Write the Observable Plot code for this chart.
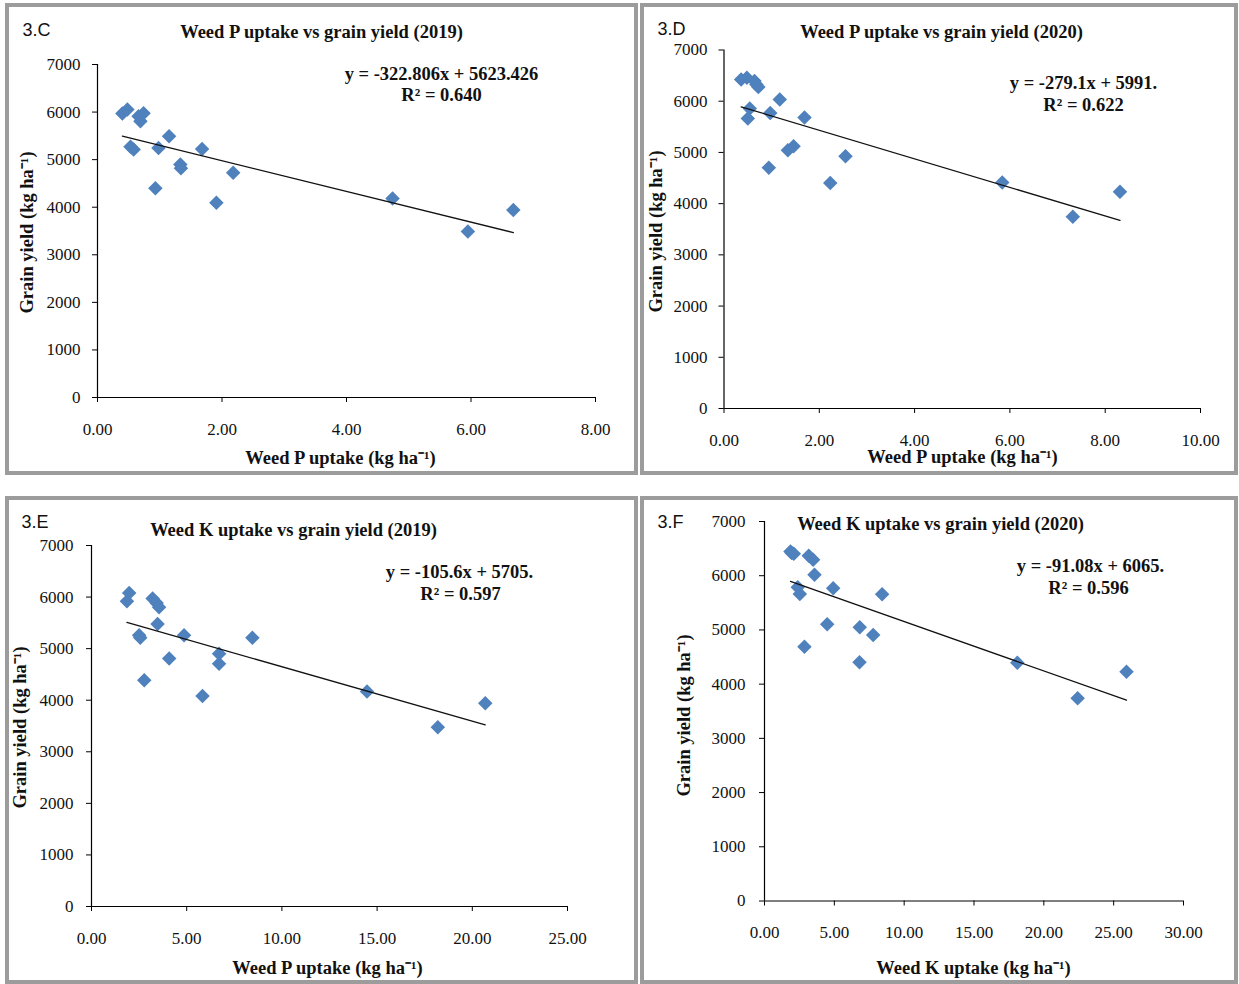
<!DOCTYPE html>
<html><head><meta charset="utf-8">
<script src="https://cdn.jsdelivr.net/npm/d3@7"></script>
<script src="https://cdn.jsdelivr.net/npm/@observablehq/plot@0.6"></script>
<style>
html,body{margin:0;padding:0;background:#fff;}
#wrap{position:relative;width:1239px;height:984px;overflow:hidden;background:#fff;}
.panel{position:absolute;box-sizing:border-box;border:4px solid #9c9c9c;background:#fff;}
.panel svg{display:block;}
</style></head>
<body><div id="wrap"></div>
<script>
// ---------- data ----------
// 3.C  Weed P uptake vs grain yield (2019)
const weedP2019 = [0.40,0.48,0.66,0.74,0.69,0.53,0.58,0.98,1.15,0.93,1.33,1.34,1.68,1.91,2.18,4.74,5.95,6.68];
const yieldP2019 = [5970,6055,5910,5975,5806,5270,5212,5245,5490,4400,4896,4818,5224,4093,4722,4184,3487,3940];
// 3.D  Weed P uptake vs grain yield (2020)
const weedP2020 = [0.36,0.48,0.64,0.72,0.68,0.54,0.50,0.97,1.17,1.69,1.34,1.46,0.94,2.55,2.23,5.84,7.32,8.31];
const yieldP2020 = [6425,6458,6393,6276,6328,5856,5661,5770,6032,5680,5041,5119,4703,4923,4402,4415,3745,4232];
// 3.E  Weed K uptake vs grain yield (2019)
const weedK2019 = [1.98,1.86,3.21,3.42,3.55,3.47,2.50,2.56,4.86,4.08,2.77,6.70,6.70,8.45,5.83,14.47,18.19,20.68];
const yieldK2019 = [6079,5920,5971,5886,5803,5480,5261,5209,5261,4810,4385,4900,4706,5209,4081,4169,3478,3943];
// 3.F  Weed K uptake vs grain yield (2020)
const weedK2020 = [1.86,2.10,1.95,3.17,3.48,3.58,2.38,2.53,4.92,8.42,4.49,6.82,7.78,2.86,6.80,18.10,22.42,25.92];
const yieldK2020 = [6446,6404,6420,6367,6293,6016,5789,5665,5770,5659,5105,5050,4908,4692,4403,4396,3738,4230];

// trendline coefficients shown on the chart
const slopes = [-322.806, -279.1, -105.6, -91.08];
const intercepts = [5623.426, 5991, 5705, 6065];
const equations = ["y = -322.806x + 5623.426", "y = -279.1x + 5991.", "y = -105.6x + 5705.", "y = -91.08x + 6065."];
const rSquared = ["R² = 0.640", "R² = 0.622", "R² = 0.597", "R² = 0.596"];

const panelTags = ["3.C", "3.D", "3.E", "3.F"];
const titles = ["Weed P uptake vs grain yield (2019)", "Weed P uptake vs grain yield (2020)",
                "Weed K uptake vs grain yield (2019)", "Weed K uptake vs grain yield (2020)"];
const xLabels = ["Weed P uptake (kg ha⁻¹)", "Weed P uptake (kg ha⁻¹)", "Weed P uptake (kg ha⁻¹)", "Weed K uptake (kg ha⁻¹)"];
const yLabel = "Grain yield (kg ha⁻¹)";
const xTicks = [[0,2,4,6,8],[0,2,4,6,8,10],[0,5,10,15,20,25],[0,5,10,15,20,25,30]];
const yTicks = [0,1000,2000,3000,4000,5000,6000,7000];

const xs = [weedP2019, weedP2020, weedK2019, weedK2020];
const ys = [yieldP2019, yieldP2020, yieldK2019, yieldK2020];

// ---------- layout (page pixel positions) ----------
const layout = [
  {left:5,   top:3,   w:633, h:472, x0:97,    x1:595,  yTop:64,   yBot:397,   yPad:12,
   tag:[22,30], title:[321,32], eq1:[441,74], eq2:[441,95], xlab:[340,458], ylab:[27,232]},
  {left:640, top:3,   w:598, h:472, x0:723.5, x1:1200, yTop:49.5, yBot:408,   yPad:11.5,
   tag:[657,29], title:[941,32], eq1:[1083,83], eq2:[1083,105], xlab:[962,457], ylab:[656,231]},
  {left:5,   top:496, w:633, h:488, x0:91,    x1:567,  yTop:545,  yBot:906,   yPad:13,
   tag:[21,522], title:[293,530], eq1:[459,572], eq2:[460,594], xlab:[327,968], ylab:[20,727]},
  {left:640, top:496, w:598, h:488, x0:764,   x1:1183, yTop:521,  yBot:900.5, yPad:14,
   tag:[657,522], title:[940,524], eq1:[1090,566], eq2:[1088,588], xlab:[973,968], ylab:[684,715]}
];

const serif = "'Liberation Serif','Times New Roman',serif";
const sans = "'Liberation Sans',Arial,sans-serif";
const diamond = {draw(ctx, size){ const h = Math.sqrt(size/Math.PI)*1.25;
  ctx.moveTo(0,-h); ctx.lineTo(h,0); ctx.lineTo(0,h); ctx.lineTo(-h,0); ctx.closePath(); }};

const wrap = document.getElementById("wrap");

layout.forEach((L, i) => {
  const div = document.createElement("div");
  div.className = "panel";
  Object.assign(div.style, {left: L.left+"px", top: L.top+"px", width: L.w+"px", height: L.h+"px"});
  const ox = L.left + 4, oy = L.top + 4, W = L.w - 8, H = L.h - 8;
  const ticks = xTicks[i];
  const xmax = ticks[ticks.length-1];
  const pts = xs[i].map((x, j) => ({x, y: ys[i][j]}));
  const xmin = d3.min(xs[i]), xmx = d3.max(xs[i]);
  const trend = [xmin, xmx].map(x => ({x, y: slopes[i]*x + intercepts[i]}));
  const txt = (s, p, o) => Plot.text([s], {text: d => d, frameAnchor: "top-left",
    dx: p[0] - L.x0, dy: p[1] - L.yTop, textAnchor: "middle", lineAnchor: "middle",
    fill: "#111", ...o});
  const chart = Plot.plot({
    width: W, height: H,
    marginLeft: L.x0 - ox, marginRight: ox + W - L.x1,
    marginTop: L.yTop - oy, marginBottom: oy + H - L.yBot,
    style: {fontFamily: serif, fontSize: "17px", color: "#111", background: "white", overflow: "visible"},
    x: {domain: [0, xmax]},
    y: {domain: [0, 7000]},
    marks: [
      Plot.axisX({ticks, tickSize: 5, tickPadding: 20, tickFormat: d3.format(".2f"), label: null, stroke: "#000"}),
      Plot.axisY({ticks: yTicks, tickSize: 5, tickPadding: L.yPad, tickFormat: d => String(d), label: null, stroke: "#000"}),
      Plot.ruleX([0], {stroke: "#000", strokeWidth: 1.2}),
      Plot.ruleY([0], {stroke: "#000", strokeWidth: 1.2}),
      Plot.dot(pts, {x: "x", y: "y", symbol: diamond, r: 5.8, fill: "#4F81BD", stroke: "none"}),
      Plot.line(trend, {x: "x", y: "y", stroke: "#111", strokeWidth: 1.3}),
      txt(panelTags[i], L.tag, {textAnchor: "start", fontFamily: sans, fontSize: 18}),
      txt(titles[i], L.title, {fontWeight: "bold", fontSize: 18.5}),
      txt(equations[i], L.eq1, {fontWeight: "bold", fontSize: 18.5}),
      txt(rSquared[i], L.eq2, {fontWeight: "bold", fontSize: 18.5}),
      txt(xLabels[i], L.xlab, {fontWeight: "bold", fontSize: 18.5}),
      txt(yLabel, L.ylab, {fontWeight: "bold", fontSize: 18.5, rotate: -90})
    ]
  });
  div.appendChild(chart);
  wrap.appendChild(div);
});
</script>
</body></html>
